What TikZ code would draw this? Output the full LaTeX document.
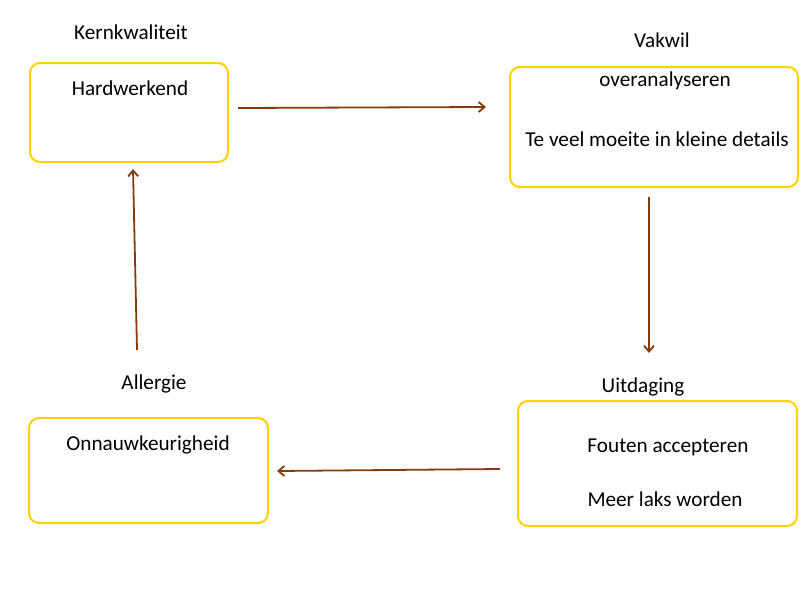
\documentclass[tikz,border=0pt]{standalone}
\usepackage{fontspec}
\setmainfont{Carlito}
\usetikzlibrary{arrows.meta}
\definecolor{boxgold}{HTML}{FFD100}
\definecolor{arrowbrown}{HTML}{843C0C}
\begin{document}
\begin{tikzpicture}[x=1pt,y=-1pt,
  card/.style={draw=boxgold,line width=2pt,rounded corners=10pt},
  txt/.style={font=\fontsize{21.2}{25}\selectfont,inner sep=0pt,anchor=center},
  link/.style={draw=arrowbrown,line width=1.8pt,-{Straight Barb[length=6pt,width=10pt,line width=1.8pt]}}]
\useasboundingbox (0,0) rectangle (800,600);
% boxes
\draw[card] (30,63) rectangle (228,162);
\draw[card] (510,67) rectangle (798,187);
\draw[card] (518,401) rectangle (797,526);
\draw[card] (29,418) rectangle (268,523);
% labels
\node[txt] (kern) at (131,32) {Kernkwaliteit};
\node[txt] (vak) at (662,40) {Vakwil};
\node[txt] (all) at (154,384) {Allergie};
\node[txt] (uit) at (643,387) {Uitdaging};
% box texts
\node[txt] (hard) at (130,88) {Hardwerkend};
\node[txt] (over) at (665,81) {overanalyseren};
\node[txt] (teveel) at (657,139) {Te veel moeite in kleine details};
\node[txt] (fout) at (668,447) {Fouten accepteren};
\node[txt] (meer) at (665,499) {Meer laks worden};
\node[txt] (onn) at (148,445) {Onnauwkeurigheid};
% arrow endpoints
\coordinate (a1s) at (238,108);
\coordinate (a1e) at (486,107);
\coordinate (a2s) at (649,197);
\coordinate (a2e) at (649,353);
\coordinate (a3s) at (500,469);
\coordinate (a3e) at (277,471);
\coordinate (a4s) at (137,350);
\coordinate (a4e) at (133,169);
\draw[link] (a1s) -- (a1e);
\draw[link] (a2s) -- (a2e);
\draw[link] (a3s) -- (a3e);
\draw[link] (a4s) -- (a4e);
\end{tikzpicture}
\end{document}
